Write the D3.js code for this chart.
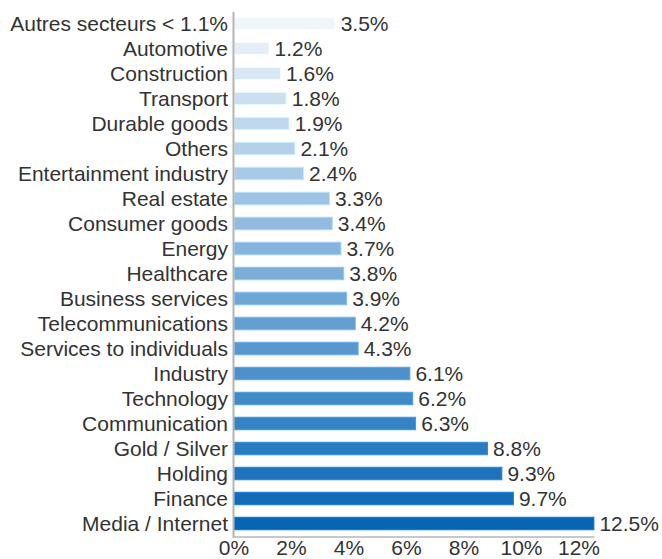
<!DOCTYPE html>
<html lang="en">
<head>
    <meta charset="UTF-8">
    <title>Sectors</title>
    <script src="https://d3js.org/d3.v7.min.js"></script>
    <style>
        body { margin: 0; background: #fff; }
        text { font-family: "Liberation Sans", Arial, sans-serif; fill: #333; }
    </style>
</head>
<body>
<svg id="main" width="662" height="559"></svg>
<script>
    // data, top to bottom
    const sectors = ['Autres secteurs < 1.1%', 'Automotive', 'Construction', 'Transport', 'Durable goods',
        'Others', 'Entertainment industry', 'Real estate', 'Consumer goods', 'Energy', 'Healthcare',
        'Business services', 'Telecommunications', 'Services to individuals', 'Industry', 'Technology',
        'Communication', 'Gold / Silver', 'Holding', 'Finance', 'Media / Internet'];
    const shares = [3.5, 1.2, 1.6, 1.8, 1.9, 2.1, 2.4, 3.3, 3.4, 3.7, 3.8, 3.9, 4.2, 4.3, 6.1, 6.2, 6.3,
        8.8, 9.3, 9.7, 12.5];
    const xTicks = [0, 2, 4, 6, 8, 10, 12];

    let svg = d3.select('svg#main');
    let marginLeft = 234, marginTop = 11;
    let fontSize = '21px';

    let x = d3.scaleLinear().domain([0, 12]).range([marginLeft, 579]);
    let y = d3.scaleBand().domain(sectors)
        .range([marginTop, marginTop + 25 * sectors.length])
        .paddingInner(0.5).paddingOuter(0.25);

    let color = d3.scaleLinear()
        .domain([0, sectors.length - 1])
        .range(['#eef5fb', '#0865b6'])
        .interpolate(d3.interpolateRgb);

    svg.selectAll('rect.bar')
        .data(sectors)
        .enter()
        .append('rect')
        .attr('class', 'bar')
        .attr('x', x(0) + 0.5)
        .attr('y', d => y(d))
        .attr('width', (d, i) => x(shares[i]) - x(0))
        .attr('height', y.bandwidth())
        .attr('fill', (d, i) => color(i))
        .attr('stroke', (d, i) => d3.color(color(i)).brighter(0.4))
        .attr('stroke-width', 1);

    // category labels
    svg.selectAll('text.cat')
        .data(sectors)
        .enter()
        .append('text')
        .attr('class', 'cat')
        .attr('x', marginLeft - 6)
        .attr('y', d => y(d) + y.bandwidth() / 2)
        .attr('dy', '0.35em')
        .attr('text-anchor', 'end')
        .style('font-size', fontSize)
        .text(d => d);

    // value labels
    svg.selectAll('text.val')
        .data(sectors)
        .enter()
        .append('text')
        .attr('class', 'val')
        .attr('x', (d, i) => x(shares[i]) + 6)
        .attr('y', d => y(d) + y.bandwidth() / 2)
        .attr('dy', '0.35em')
        .style('font-size', fontSize)
        .text((d, i) => shares[i].toFixed(1) + '%');

    // bottom baseline
    svg.append('line')
        .attr('x1', marginLeft).attr('x2', x(12.5) + 1)
        .attr('y1', 537).attr('y2', 537)
        .attr('stroke', '#c8c8c8')
        .attr('stroke-width', 2);

    // vertical axis line
    svg.append('line')
        .attr('x1', marginLeft - 0.5).attr('x2', marginLeft - 0.5)
        .attr('y1', marginTop + 1).attr('y2', 538)
        .attr('stroke', '#b3b3b3')
        .attr('stroke-width', 2);

    // x tick labels
    svg.selectAll('text.tick')
        .data(xTicks)
        .enter()
        .append('text')
        .attr('class', 'tick')
        .attr('x', d => x(d))
        .attr('y', 555)
        .attr('text-anchor', 'middle')
        .style('font-size', fontSize)
        .text(d => d + '%');
</script>
</body>
</html>
